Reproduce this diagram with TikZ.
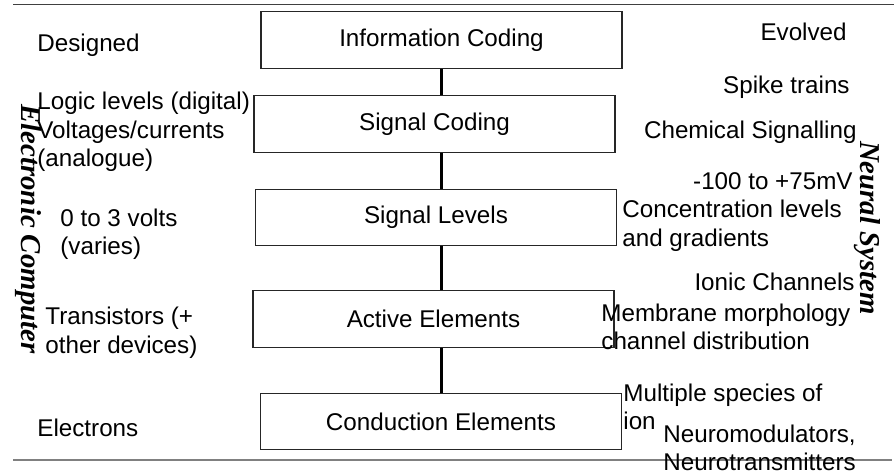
\documentclass[tikz,border=0pt]{standalone}
\usepackage{fontspec}
\setmainfont{Liberation Sans}
\newfontfamily\sidefont{Liberation Serif}
\usetikzlibrary{positioning}

\begin{document}
\begin{tikzpicture}[x=0.5pt, y=-0.5pt,
    every node/.style={font=\fontsize{12.1}{14.3}\selectfont, inner sep=0pt},
    layer/.style={draw=black!85, line width=0.6pt, minimum width=180.5pt, minimum height=28.3pt},
    side/.style={font=\fontsize{14.4}{16}\sidefont\bfseries\itshape, rotate=-90},
    link/.style={line width=1.6pt}]
    \useasboundingbox (0,0) rectangle (894,475);

    % rules
    \draw[black!75, line width=0.75pt] (13,4.5) -- (894,4.5);
    \draw[black!50, line width=1pt] (13,460.5) -- (892,460.5);

    % levels
    \node[layer] (info)    at (441.5,40)  {Information Coding};
    \node[layer] (sigcode) at (434.5,124) {Signal Coding};
    \node[layer] (siglev)  at (436,217.5) {Signal Levels};
    \node[layer] (active)  at (433.5,319) {Active Elements};
    \node[layer] (cond)    at (441,421.5) {Conduction Elements};

    \draw[link] (info.south) -- (info.south |- sigcode.north);
    \draw[link] (info.south |- sigcode.south) -- (info.south |- siglev.north);
    \draw[link] (info.south |- siglev.south) -- (info.south |- active.north);
    \draw[link] (info.south |- active.south) -- (info.south |- cond.north);

    % electronic side
    \node[side] (ecomp) at (28,229) {Electronic Computer};
    \node[anchor=west] (designed) at (37,44.8) {Designed};
    \node[anchor=west, align=left] (logic) at (37,131.8) {Logic levels (digital)\\Voltages/currents\\(analogue)};
    \node[anchor=west, align=left] (volts) at (60,234.3) {0 to 3 volts\\(varies)};
    \node[anchor=west, align=left] (trans) at (45,332.8) {Transistors (+\\other devices)};
    \node[anchor=west] (electrons) at (37,428.3) {Electrons};

    % neural side
    \node[side] (nsys) at (867,228) {Neural System};
    \node[anchor=east] (evolved) at (847,32.3) {Evolved};
    \node[anchor=east] (spikes) at (850,86.8) {Spike trains};
    \node[anchor=east] (chem) at (857,131.8) {Chemical Signalling};
    \node[anchor=east] (mv) at (853,181.3) {-100 to +75mV};
    \node[anchor=west, align=left] (conc) at (622,225.8) {Concentration levels\\and gradients};
    \node[anchor=east] (ionic) at (855,282.3) {Ionic Channels};
    \node[anchor=west, align=left] (membrane) at (601,326.8) {Membrane morphology\\channel distribution};
    \node[anchor=west, align=left] (species) at (623,406.8) {Multiple species of\\ion};
    \node[anchor=west, align=left] (neuro) at (663,448) {Neuromodulators,\\Neurotransmitters};
\end{tikzpicture}
\end{document}
